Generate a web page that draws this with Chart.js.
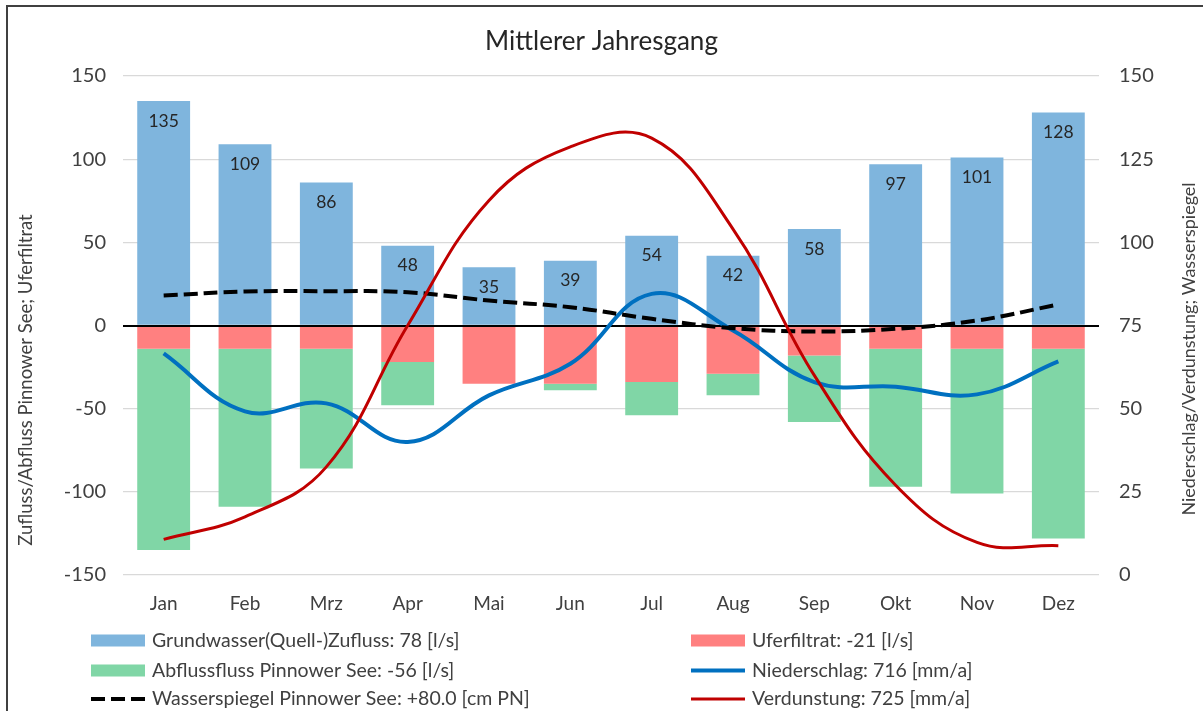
<!DOCTYPE html>
<html>
<head>
<meta charset="utf-8">
<script src="https://cdn.jsdelivr.net/npm/chart.js@4/dist/chart.umd.min.js"></script>
<style>
html,body{margin:0;padding:0;background:#fff;}
#wrap{width:1203px;height:711px;position:relative;}
</style>
</head>
<body>
<div id="wrap"><canvas id="c" width="1203" height="711"></canvas></div>
<script>
// ---- data ----
const months = ['Jan','Feb','Mrz','Apr','Mai','Jun','Jul','Aug','Sep','Okt','Nov','Dez'];
const grundwasser = [135,109,86,48,35,39,54,42,58,97,101,128];
const uferfiltrat = [-14,-14,-14,-22,-35,-35,-34,-29,-18,-14,-14,-14];
const abfluss = [-121,-95,-72,-26,0,-4,-20,-13,-40,-83,-87,-114];
const niederschlag = [66.6,49.2,51.6,40,54,63.5,84.5,73.5,58,56.6,54.3,64.2];
const wasserspiegel = [84,85.2,85.3,85,82.5,80.5,77,74.2,73.2,74,76.5,81.3];
const verdunstung = [10.7,17.5,32.5,75,112.6,128.7,131.3,104,60,27,9.8,8.8];
const seriesLabels = [
  'Grundwasser(Quell-)Zufluss: 78 [l/s]',
  'Uferfiltrat: -21 [l/s]',
  'Abflussfluss Pinnower See: -56 [l/s]',
  'Niederschlag: 716 [mm/a]',
  'Wasserspiegel Pinnower See: +80.0 [cm PN]',
  'Verdunstung: 725 [mm/a]'
];
const chartTitle = 'Mittlerer Jahresgang';
const leftAxisTitle = 'Zufluss/Abfluss Pinnower See; Uferfiltrat';
const rightAxisTitle = 'Niederschlag/Verdunstung; Wasserspiegel';

const FONT = 'Lato';
const TXT = '#404040';

const decor = {
  id: 'decor',
  afterDatasetDraw(chart, args) {
    if (args.index !== 0) return;
    const ctx = chart.ctx;
    const y = chart.scales.y;
    const area = chart.chartArea;
    ctx.save();
    // zero line on top of bars
    const y0 = Math.round(y.getPixelForValue(0)) + 0.5;
    ctx.strokeStyle = '#000';
    ctx.lineWidth = 1;
    ctx.beginPath(); ctx.moveTo(area.left, y0); ctx.lineTo(area.right, y0); ctx.stroke();
    // value labels inside blue bars
    ctx.font = '17.5px ' + FONT;
    ctx.fillStyle = '#262626';
    ctx.textAlign = 'center';
    ctx.textBaseline = 'middle';
    args.meta.data.forEach((bar, i) => {
      ctx.fillText(String(grundwasser[i]), bar.x, bar.y + 20);
    });
    ctx.restore();
  },
  afterDraw(chart) {
    const ctx = chart.ctx;
    ctx.save();
    // outer frame
    ctx.strokeStyle = '#404040';
    ctx.lineWidth = 2;
    ctx.beginPath();
    ctx.moveTo(7, 730); ctx.lineTo(7, 6); ctx.lineTo(1220, 6);
    ctx.stroke();
    // axis titles
    ctx.fillStyle = TXT;
    ctx.font = '18.5px ' + FONT;
    ctx.textAlign = 'center';
    ctx.textBaseline = 'middle';
    ctx.save(); ctx.translate(26, 380); ctx.rotate(-Math.PI/2); ctx.fillText(leftAxisTitle, 0, 0); ctx.restore();
    ctx.font = '18px ' + FONT;
    ctx.save(); ctx.translate(1189, 349); ctx.rotate(-Math.PI/2); ctx.fillText(rightAxisTitle, 0, 0); ctx.restore();
    // legend
    const colX = [91, 691];
    const rowY = [640.5, 670.5, 699];
    ctx.font = '19.5px ' + FONT;
    ctx.textAlign = 'left';
    chart.data.datasets.forEach((ds, i) => {
      const x = colX[i % 2], yy = rowY[Math.floor(i / 2)];
      if (ds.type === 'line') {
        ctx.save();
        ctx.strokeStyle = ds.borderColor;
        ctx.lineWidth = ds.borderWidth;
        ctx.setLineDash(ds.borderDash || []);
        ctx.beginPath(); ctx.moveTo(x, yy); ctx.lineTo(x + 54, yy); ctx.stroke();
        ctx.restore();
      } else {
        ctx.fillStyle = ds.backgroundColor;
        ctx.fillRect(x, yy - 6, 54, 12);
      }
      ctx.fillStyle = TXT;
      ctx.fillText(ds.label, x + 61, yy);
    });
    ctx.restore();
  }
};

new Chart(document.getElementById('c'), {
  data: {
    labels: months,
    datasets: [
      { type: 'bar', label: seriesLabels[0], data: grundwasser, backgroundColor: '#7FB5DD', yAxisID: 'y', order: 3 },
      { type: 'bar', label: seriesLabels[1], data: uferfiltrat, backgroundColor: '#FF8080', yAxisID: 'y', order: 3 },
      { type: 'bar', label: seriesLabels[2], data: abfluss, backgroundColor: '#80D6A6', yAxisID: 'y', order: 3 },
      { type: 'line', label: seriesLabels[3], data: niederschlag, borderColor: '#0070C0', borderWidth: 4, yAxisID: 'y1', order: 2, tension: 0.4, pointRadius: 0, fill: false },
      { type: 'line', label: seriesLabels[4], data: wasserspiegel, borderColor: '#000000', borderWidth: 4, borderDash: [14, 6], yAxisID: 'y1', order: 1, tension: 0.4, pointRadius: 0, fill: false },
      { type: 'line', label: seriesLabels[5], data: verdunstung, borderColor: '#C00000', borderWidth: 3, yAxisID: 'y1', order: 0, tension: 0.4, pointRadius: 0, fill: false }
    ]
  },
  options: {
    responsive: false,
    animation: false,
    events: [],
    layout: { padding: 0 },
    datasets: { bar: { categoryPercentage: 0.65, barPercentage: 1 } },
    plugins: {
      legend: { display: false },
      tooltip: { enabled: false },
      title: {
        display: true, text: chartTitle, color: '#262626',
        font: { family: FONT, size: 26, weight: 'normal' },
        padding: { top: 26, bottom: 18.8 }
      }
    },
    scales: {
      x: {
        stacked: true,
        grid: { display: false, drawTicks: false },
        border: { display: false },
        ticks: { color: TXT, font: { family: FONT, size: 19 }, padding: 17 },
        afterFit(s) { s.height = 136; }
      },
      y: {
        position: 'left', stacked: true, min: -150, max: 150,
        grid: { color: (c) => c.tick && c.tick.value === 0 ? '#000000' : '#D9D9D9', lineWidth: 1.3, drawTicks: false },
        border: { display: false },
        ticks: { stepSize: 50, color: TXT, font: { family: FONT, size: 20 }, padding: 17 },
        afterFit(s) { s.width = 123; }
      },
      y1: {
        position: 'right', min: 0, max: 150,
        grid: { display: false, drawTicks: false },
        border: { display: false },
        ticks: { stepSize: 25, color: TXT, font: { family: FONT, size: 20 }, padding: 20 },
        afterFit(s) { s.width = 104; }
      }
    }
  },
  plugins: [decor]
});
</script>
</body>
</html>
